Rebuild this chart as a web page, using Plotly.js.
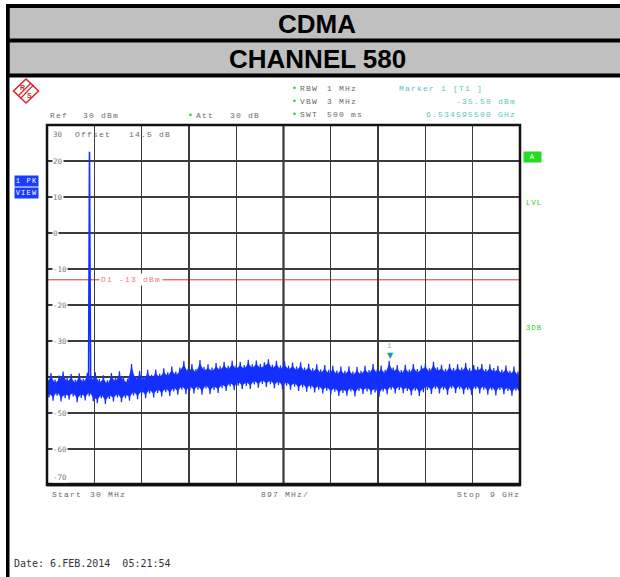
<!DOCTYPE html>
<html>
<head>
<meta charset="utf-8">
<script src="https://cdn.plot.ly/plotly-3.0.1.min.js"></script>
<style>
html,body{margin:0;padding:0;background:#fff;}
#chart{width:620px;height:577px;}
text[style*="Liberation Mono"]{letter-spacing:1.2px;}
</style>
</head>
<body>
<div id="chart"></div>
<script>
// ---------------- data ----------------
const startMHz = 30;
const stopMHz = 9000;
const spanPerDiv = 897;
const refLevel = 30;
const bottomLevel = -70;
const yTickValues = [30, 20, 10, 0, -10, -20, -30, -50, -60, -70];
const yTickLabels = ["30", "20", "10", "0", "-10", "-20", "-30", "-50", "-60", "-70"];

// upper / lower excursions of the peak trace (dBm), read left to right
const noiseHi = [
  -40.4,-38.9,-40.7,-39.6,-38.5,-40.3,-39.2,-40.8,-39.0,-40.5,-38.8,
  -39.8,
  -38.7,-40.6,-39.5,-40.9,-38.9,-40.2,-38.4,-39.9,-40.5,
  -36.4,-39.8,-38.3,-39.9,-38.0,-39.4,-37.9,-39.1,
  -37.6,-38.7,-37.1,-38.5,-37.4,-35.6,-37.8,-36.4,
  -37.8,-35.3,-37.2,-36.5,-37.4,-36.1,-37.0,-35.8,-36.9,-35.5,-36.6,
  -35.8,-36.7,-35.2,-36.5,-35.4,-36.4,-35.9,-35.1,-36.6,-35.5,-36.8,-35.6,-36.9,-36.0,
  -37.1,-35.9,-37.4,-36.3,-37.6,-36.5,-37.9,-36.7,-38.0,-36.9,-38.2,-37.1,
  -38.3,-37.0,-38.5,-37.2,-38.3,-36.9,-38.1,-36.4,-37.9,
  -36.8,-38.0,-35.5,-37.4,-36.7,-38.1,-36.6,-37.9,-36.4,-37.8,-36.8,
  -36.2,-37.6,-35.8,-37.3,-36.6,-37.7,-36.3,-37.5,-36.5,-37.4,-36.1,-37.6,
  -36.7,-37.2,-36.4,-37.8,-36.5,-37.5,-36.9,-38.0,-36.8,-38.2,-37.1,-38.5
];
const noiseLo = [
  -45.7,-46.6,-45.2,-46.8,-45.9,-46.3,-45.4,-47.0,-45.8,-46.5,-45.3,
  -46.7,
  -47.3,-45.9,-47.5,-46.1,-46.8,-45.7,-47.0,-45.9,-46.6,
  -45.1,-46.2,-44.9,-45.9,-44.6,-45.7,-44.4,-45.4,
  -44.2,-45.3,-44.0,-44.9,-43.5,-44.8,-43.7,-44.6,
  -43.5,-44.9,-43.2,-44.8,-43.6,-44.4,-43.1,-43.9,-42.6,-43.7,-42.4,
  -43.4,-42.5,-43.3,-42.1,-43.0,-41.9,-42.8,-42.0,-43.1,-42.2,-43.4,-42.4,-43.5,-42.7,
  -43.9,-42.9,-44.1,-43.2,-44.3,-43.5,-44.6,-43.8,-44.9,-44.1,-45.3,-44.4,
  -45.2,-44.0,-45.4,-43.9,-44.7,-44.0,-44.9,-44.3,-45.5,
  -44.0,-44.8,-43.5,-44.6,-43.6,-44.5,-43.9,-45.1,-43.8,-45.3,-44.2,
  -43.6,-44.7,-43.3,-44.6,-43.5,-44.9,-43.2,-44.5,-43.4,-44.8,-43.6,-45.0,
  -43.3,-44.6,-43.5,-44.9,-43.7,-45.1,-43.6,-44.8,-43.9,-45.2,-43.8,-45.3
];

// CDMA carrier (channel 580)
const carrierFreq = [818, 836, 843, 858];
const carrierLvl = [-41.5, 22.6, -1.4, -42.0];

const displayLineLvl = -13;
const markerFreq = 6534.5955;
const markerLvl = -35.5;

// ---------------- geometry helpers ----------------
const L = 47, R = 520, T = 125, B = 485;
const px = x => (x - L) / (R - L);
const py = y => (B - y) / (B - T);

// sweep grid: the trace swings between its upper and lower excursions
const nPts = noiseHi.length * 2;
const step = (stopMHz - startMHz) / (nPts - 1);
const traceX = [], traceY = [], hiX = [], loX = [];
for (let k = 0; k < noiseHi.length; k++) {
  hiX.push(startMHz + (2 * k) * step);
  loX.push(startMHz + (2 * k + 1) * step);
  traceX.push(hiX[k]); traceY.push(noiseHi[k]);
  traceX.push(loX[k]); traceY.push(noiseLo[k]);
}
// dense core of the trace (drawing aid: inner part of the swing)
const inset = 1.1;
const coreTop = noiseHi.map(v => v - inset);
const coreBot = noiseLo.map(v => v + inset);

const blue = '#1430ff';
const traces = [
  {x: hiX, y: coreTop, type: 'scatter', mode: 'lines',
   line: {color: blue, width: 0.5}, hoverinfo: 'skip'},
  {x: loX, y: coreBot, type: 'scatter', mode: 'lines', fill: 'tonexty', fillcolor: blue,
   line: {color: blue, width: 0.5}, hoverinfo: 'skip'},
  {x: traceX, y: traceY, type: 'scatter', mode: 'lines',
   line: {color: blue, width: 1.2}, hoverinfo: 'skip'},
  {x: carrierFreq, y: carrierLvl, type: 'scatter', mode: 'lines',
   line: {color: blue, width: 1.6}, hoverinfo: 'skip'}
];

const mono = 'Liberation Mono';
const grey = '#6a6a6a';
const anns = [];
function txt(x, y, text, o) {
  o = o || {};
  anns.push(Object.assign({
    xref: 'paper', yref: 'paper', x: px(x), y: py(y), text: text,
    showarrow: false, xanchor: 'left', yanchor: 'middle',
    font: {family: mono, size: 8, color: grey}
  }, o));
}

// header
txt(317, 24, '<b>CDMA</b>', {xanchor: 'center', font: {family: 'Liberation Sans, Arial', size: 26, color: '#000'}});
txt(317, 58.5, '<b>CHANNEL 580</b>', {xanchor: 'center', font: {family: 'Liberation Sans, Arial', size: 26, color: '#000'}});

// instrument settings
const green = '#22cc22';
txt(48, 115, 'Ref');
txt(81, 115, '30 dBm');
txt(186, 115, '•', {font: {family: 'DejaVu Sans', size: 8, color: green}});
txt(194, 115, 'Att');
txt(228, 115, '30 dB');
const rows = [['RBW', '1 MHz', 88.5], ['VBW', '3 MHz', 101.5], ['SWT', '500 ms', 114.5]];
rows.forEach(r => {
  txt(289.5, r[2], '•', {font: {family: 'DejaVu Sans', size: 8, color: green}});
  txt(298, r[2], r[0]);
  txt(325, r[2], r[1]);
});
const teal = '#5cc4c4';
txt(397, 88.5, 'Marker 1 [T1 ]', {font: {family: mono, size: 8, color: teal}});
txt(518, 101.5, '-35.50 dBm', {xanchor: 'right', font: {family: mono, size: 8, color: teal}});
txt(518, 114.5, '6.534595500 GHz', {xanchor: 'right', font: {family: mono, size: 8, color: teal}});

txt(73, 134, 'Offset   14.5 dB');

// y labels inside the grid
yTickValues.forEach((v, i) => {
  let y = T + (refLevel - v) * 3.6;
  if (v === refLevel) y = 134;
  if (v === bottomLevel) y = 477.5;
  txt(52, y, yTickLabels[i], {bgcolor: '#fff', borderpad: 0,
    font: {family: 'DejaVu Sans Mono', size: 7.5, color: '#7a7a7a'}});
});

// display line label
anns.push({xref: 'x', yref: 'y', x: 1620, y: displayLineLvl, text: 'D1 -13 dBm',
  showarrow: false, xanchor: 'center', yanchor: 'middle', bgcolor: '#fff', borderpad: 1,
  font: {family: mono, size: 8, color: '#f07878'}});

// marker
anns.push({xref: 'x', yref: 'y', x: markerFreq, y: markerLvl, text: '▼',
  showarrow: false, xanchor: 'center', yanchor: 'bottom', yshift: -1,
  font: {family: 'DejaVu Sans', size: 8, color: '#1a9a9a'}});
anns.push({xref: 'x', yref: 'y', x: markerFreq, y: markerLvl, text: '1',
  showarrow: false, xanchor: 'center', yanchor: 'bottom', yshift: 9,
  font: {family: mono, size: 7.5, color: teal}});

// side boxes
txt(14, 181, '1 PK', {xanchor: 'left', bgcolor: '#1a3cff', borderpad: 1, width: 21,
  font: {family: mono, size: 7, color: '#fff'}});
txt(14, 192.5, 'VIEW', {xanchor: 'left', bgcolor: '#1a3cff', borderpad: 1, width: 21,
  font: {family: mono, size: 7, color: '#fff'}});
txt(523, 157, 'A', {xanchor: 'left', bgcolor: '#22dd22', borderpad: 1, width: 15,
  font: {family: mono, size: 7, color: '#fff'}});
txt(524, 203, 'LVL', {font: {family: mono, size: 7, color: green}});
txt(524, 328, '3DB', {font: {family: mono, size: 7, color: green}});

// bottom
txt(50, 494.5, 'Start');
txt(88, 494.5, '30 MHz');
txt(259, 494.5, '897 MHz/');
txt(455, 494.5, 'Stop');
txt(488, 494.5, '9 GHz');
txt(12, 563, 'Date: 6.FEB.2014  05:21:54', {font: {family: 'DejaVu Sans Mono', size: 10, color: '#333'}});

// ---------------- shapes ----------------
const shapes = [];
function rect(x0, y0, x1, y1, fill, layer) {
  shapes.push({type: 'rect', xref: 'paper', yref: 'paper',
    x0: px(x0), x1: px(x1), y0: py(y0), y1: py(y1),
    fillcolor: fill, line: {width: 0}, layer: layer || 'above'});
}
rect(6, 4, 620, 77.5, '#000');
rect(9.5, 8, 620, 38.5, '#c0c0c0');
rect(9.5, 42.5, 620, 73.5, '#c0c0c0');
rect(6, 4, 9.5, 577, '#000');

// centre vertical line
shapes.push({type: 'line', xref: 'x', yref: 'paper', x0: startMHz + 5 * spanPerDiv, x1: startMHz + 5 * spanPerDiv,
  y0: 0, y1: 1, line: {color: '#111', width: 2}, layer: 'between'});
// display line
shapes.push({type: 'line', xref: 'paper', yref: 'y', x0: 0, x1: 1, y0: displayLineLvl, y1: displayLineLvl,
  line: {color: '#e03030', width: 1}, layer: 'between'});
// frame
shapes.push({type: 'rect', xref: 'paper', yref: 'paper', x0: 0, x1: 1, y0: 0, y1: 1,
  line: {color: '#111', width: 2.5}, layer: 'above'});
shapes.push({type: 'line', xref: 'paper', yref: 'paper', x0: 0, x1: 1, y0: py(484.5), y1: py(484.5),
  line: {color: '#111', width: 3.5}, layer: 'above'});

// R&S logo
function path(pts, close) {
  return pts.map((p, i) => (i ? 'L' : 'M') + px(p[0]) + ',' + py(p[1])).join(' ') + (close ? ' Z' : '');
}
const red = '#d42a2a';
shapes.push({type: 'path', xref: 'paper', yref: 'paper',
  path: path([[26, 79], [38.5, 91], [26, 103], [13.5, 91]], true),
  line: {color: red, width: 1.6}, fillcolor: 'rgba(0,0,0,0)'});
shapes.push({type: 'path', xref: 'paper', yref: 'paper',
  path: path([[33.5, 85], [21, 98]]), line: {color: red, width: 1.2}});
shapes.push({type: 'path', xref: 'paper', yref: 'paper',
  path: path([[31, 83], [18.5, 95.5]]), line: {color: red, width: 1.2}});
txt(22.5, 87.5, '<b>R</b>', {xanchor: 'center', font: {family: 'Liberation Sans', size: 7, color: red}});
txt(29.5, 95, '<b>S</b>', {xanchor: 'center', font: {family: 'Liberation Sans', size: 7, color: red}});

const layout = {
  width: 620, height: 577,
  margin: {l: L, r: 620 - R, t: T, b: 577 - B, pad: 0},
  paper_bgcolor: '#fff', plot_bgcolor: '#fff',
  showlegend: false,
  xaxis: {range: [startMHz, stopMHz], tick0: startMHz, dtick: spanPerDiv, showticklabels: false,
    ticks: '', showgrid: true, gridcolor: '#3c3c3c', gridwidth: 1.3, zeroline: false,
    showline: false, fixedrange: true},
  yaxis: {range: [bottomLevel, refLevel], tick0: 0, dtick: 10, showticklabels: false,
    ticks: '', showgrid: true, gridcolor: '#3c3c3c', gridwidth: 1.3, zeroline: false,
    showline: false, fixedrange: true},
  annotations: anns,
  shapes: shapes
};

Plotly.newPlot('chart', traces, layout, {staticPlot: true, displayModeBar: false});
</script>
</body>
</html>
